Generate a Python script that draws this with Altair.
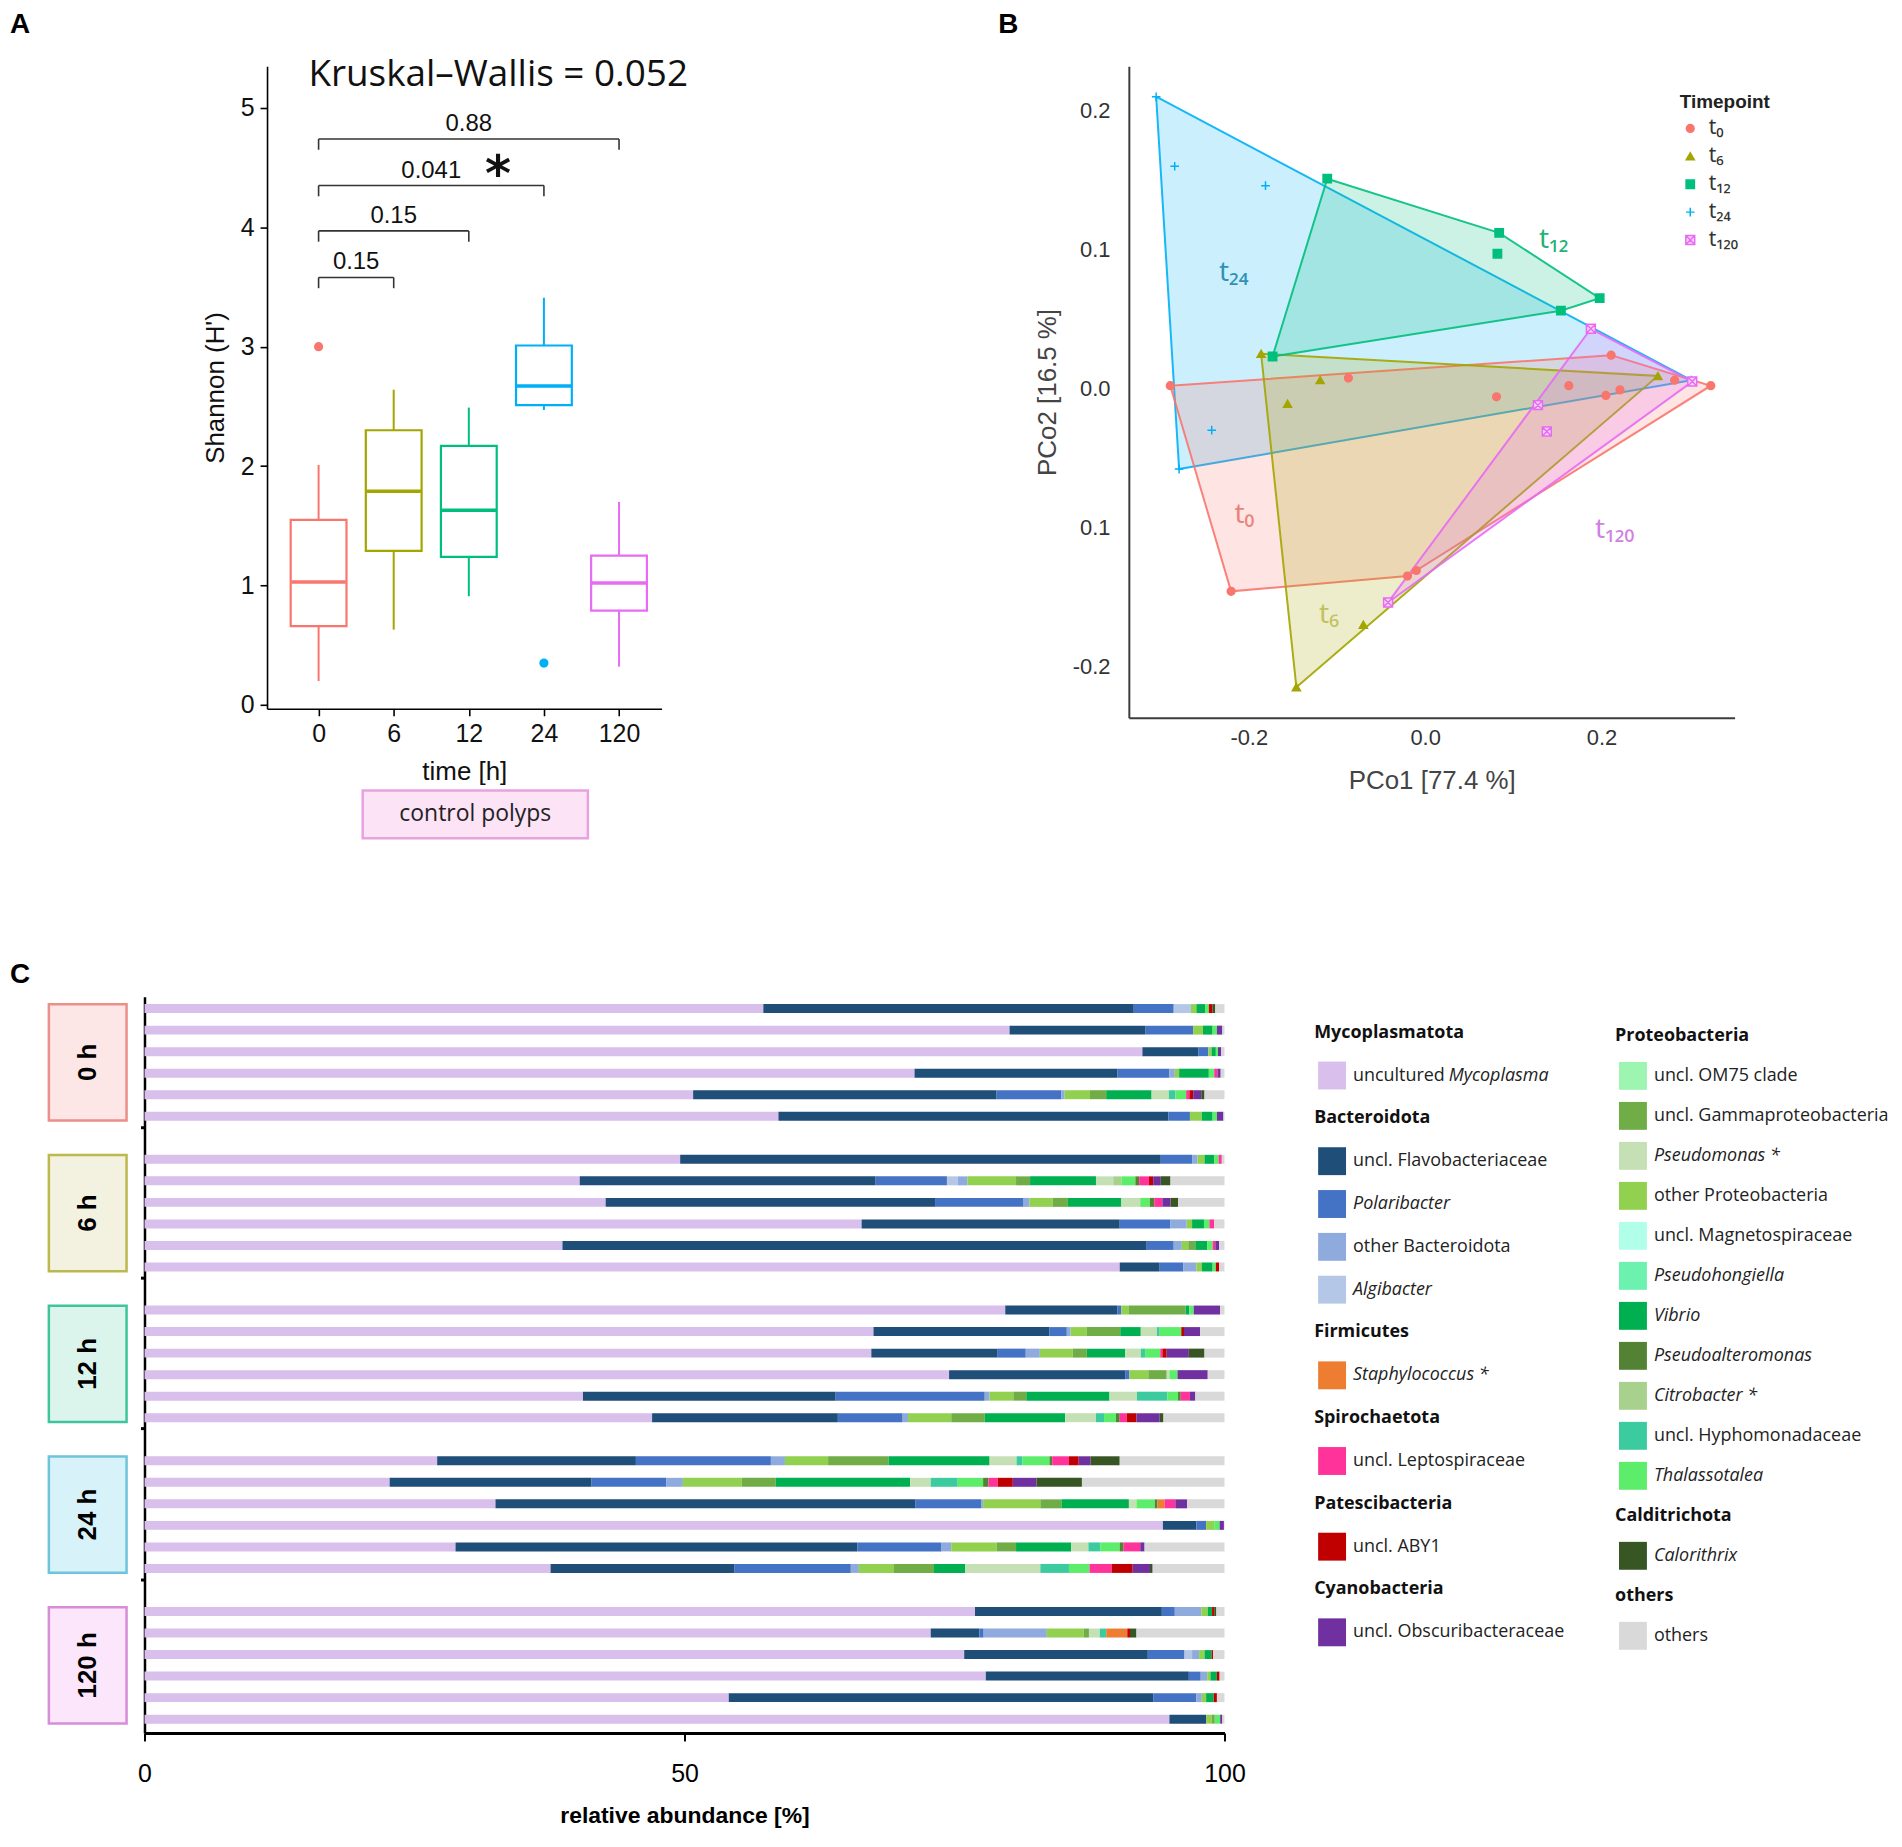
import json
import altair as alt
import pandas as pd

# =========================== Panel A data ===========================
times = ["0", "6", "12", "24", "120"]
shannon_low = [0.20, 0.63, 0.91, 2.47, 0.32]
shannon_q1 = [0.66, 1.29, 1.24, 2.51, 0.79]
shannon_median = [1.03, 1.79, 1.63, 2.67, 1.02]
shannon_q3 = [1.55, 2.30, 2.17, 3.01, 1.25]
shannon_high = [2.01, 2.64, 2.49, 3.41, 1.70]
outlier_time = ["0", "24"]
outlier_value = [3.00, 0.35]
time_colors = ["#F8766D", "#A3A500", "#00BF7D", "#00B0F6", "#E76BF3"]
bracket_to = ["6", "12", "24", "120"]
bracket_level = [3.58, 3.97, 4.35, 4.74]
bracket_p = ["0.15", "0.15", "0.041", "0.88"]
star_time = "24"
kw_title = "Kruskal\u2013Wallis = 0.052"
caption_a = "control polyps"

# =========================== Panel B data ===========================
tp_labels = ["t\u2080", "t\u2086", "t\u2081\u2082", "t\u2082\u2084", "t\u2081\u2082\u2080"]
tp_colors = ["#F8766D", "#A3A500", "#00BF7D", "#00B0F6", "#E76BF3"]
tp_fills = ["#F8766D", "#A3A500", "#00BF7D", "transparent", "#F7D6FA"]
tp_shapes = ["circle", "triangle-up", "square", "M-1,0L1,0M0,-1L0,1",
             "M-1,-1L1,-1L1,1L-1,1ZM-1,-1L1,1M1,-1L-1,1"]
tp_sizes = [60, 80, 60, 190, 100]
pco1_t0 = [-0.289, -0.087, 0.081, 0.163, 0.211, 0.205, 0.221, 0.283, 0.324, -0.010, -0.020, -0.220]
pco2_t0 = [0.002, 0.0075, -0.006, 0.002, 0.024, -0.005, -0.001, 0.006, 0.002, -0.131, -0.135, -0.146]
pco1_t6 = [-0.186, -0.119, -0.156, 0.264, -0.070, -0.146]
pco2_t6 = [0.025, 0.006, -0.011, 0.009, -0.170, -0.215]
pco1_t12 = [-0.111, 0.084, 0.082, 0.198, 0.154, -0.173]
pco2_t12 = [0.151, 0.112, 0.097, 0.065, 0.056, 0.023]
pco1_t24 = [-0.305, -0.284, -0.181, -0.242, -0.279, 0.302]
pco2_t24 = [0.210, 0.160, 0.146, -0.030, -0.058, 0.006]
pco1_t120 = [0.188, 0.128, 0.138, 0.303, -0.042]
pco2_t120 = [0.043, -0.012, -0.031, 0.005, -0.154]
hull_label_x = [-0.205, -0.109, 0.146, -0.217, 0.215]
hull_label_y = [-0.091, -0.163, 0.107, 0.083, -0.102]
hull_label_colors = ["#E8837C", "#C2C25C", "#27B07A", "#2E93B5", "#D07FE3"]

# =========================== Panel C data ===========================
group_labels = ["0 h", "6 h", "12 h", "24 h", "120 h"]
group_fill = ["#FDE6E6", "#F3F1DF", "#DBF5EC", "#D8F2FA", "#FCE6FB"]
group_stroke = ["#EC8F89", "#BCB84E", "#40C49B", "#6EC4D9", "#D68ED7"]
replicates = 6

uncultured_mycoplasma = [57.3, 80.1, 92.4, 71.3, 50.8, 58.7, 49.6, 40.3, 42.7, 66.4, 38.7, 90.3,
                         79.7, 67.5, 67.3, 74.5, 40.6, 47.0, 27.1, 22.7, 32.5, 94.3, 28.8, 37.6,
                         76.9, 72.8, 75.9, 77.9, 54.1, 94.9]
uncl_flavobacteriaceae = [34.3, 12.6, 5.2, 18.8, 28.1, 36.1, 44.5, 27.4, 30.5, 23.9, 54.1, 3.7,
                          10.4, 16.3, 11.7, 16.3, 23.4, 17.2, 18.4, 18.7, 38.9, 3.1, 37.2, 17.0,
                          17.3, 4.5, 17.0, 18.8, 39.3, 3.4]
polaribacter = [3.7, 4.4, 0.9, 4.8, 6.0, 2.0, 2.9, 6.6, 8.2, 4.7, 2.5, 2.2,
                0.35, 1.6, 2.6, 0.4, 13.8, 6.0, 12.5, 6.9, 6.1, 0.9, 7.8, 10.8,
                1.2, 0.4, 3.4, 1.1, 4.0, 0.0]
algibacter = [1.6, 0, 0, 0, 0, 0, 0, 1.0, 0, 0, 0, 0,
              0, 0, 0, 0, 0, 0, 0, 0, 0, 0, 0, 0,
              0, 0, 0.7, 0, 0, 0]
other_bacteroidota = [0, 0, 0, 0.5, 0.3, 0, 0.5, 0.9, 0.55, 1.5, 0.75, 1.2,
                      0, 0.35, 1.3, 0, 0.45, 0.5, 1.3, 1.55, 0.15, 0, 0.9, 0.75,
                      2.45, 5.85, 0.65, 0.6, 0.5, 0]
other_proteobacteria = [0.5, 0.9, 0.3, 0.4, 2.35, 1.1, 0.65, 4.5, 2.15, 0.5, 0.6, 0.5,
                        0.7, 1.5, 3.05, 1.75, 2.2, 4.0, 4.0, 5.45, 5.3, 0.75, 4.2, 3.25,
                        0.6, 3.4, 0.5, 0.3, 0.4, 0.5]
uncl_gammaproteobacteria = [0, 0, 0, 0, 1.5, 0, 0, 1.3, 1.4, 0, 0.65, 0,
                            5.25, 3.1, 1.3, 1.7, 1.2, 3.1, 5.6, 3.15, 1.95, 0, 1.8, 3.7,
                            0, 0.5, 0, 0, 0, 0.3]
vibrio = [0.8, 0.9, 0.4, 2.75, 4.2, 1.0, 0.9, 6.1, 4.95, 1.1, 1.1, 1.0,
          0.35, 1.9, 3.55, 0, 7.7, 7.45, 9.35, 12.45, 6.25, 0, 5.1, 2.9,
          0.4, 0, 0.65, 0.6, 0.7, 0]
pseudomonas = [0, 0, 0, 0, 1.6, 0, 0, 1.6, 1.75, 0, 0, 0,
               0, 1.5, 1.45, 0.25, 2.55, 2.85, 2.5, 1.9, 0.7, 0, 1.6, 6.95,
               0, 1.0, 0, 0, 0, 0]
citrobacter = [0, 0, 0, 0, 0, 0, 0, 0.75, 0, 0, 0, 0,
               0, 0, 0, 0, 0, 0, 0, 0, 0, 0, 0, 0,
               0, 0, 0, 0, 0, 0]
uncl_om75 = [0.0] * 30
uncl_magnetospiraceae = [0.0] * 30
pseudohongiella = [0.0] * 30
uncl_hyphomonadaceae = [0, 0, 0, 0, 0.6, 0, 0, 0, 0, 0, 0, 0,
                        0, 0.25, 0.4, 0, 2.8, 0.75, 0.55, 2.5, 0, 0, 1.1, 2.65,
                        0, 0.6, 0, 0, 0, 0]
thalassotalea = [0.35, 0.4, 0.2, 0.5, 1.0, 0.4, 0.4, 1.3, 0.9, 0.5, 0.5, 0.3,
                 0.4, 2.0, 1.4, 0.75, 1.0, 1.1, 2.5, 2.35, 1.7, 0.5, 1.8, 1.9,
                 0, 0, 0, 0, 0, 0.5]
pseudoalteromonas = [0, 0, 0, 0, 0, 0, 0, 0.35, 0.4, 0, 0, 0,
                     0, 0, 0, 0, 0.25, 0.35, 0.25, 0.5, 0.25, 0, 0.35, 0,
                     0, 0, 0, 0, 0, 0]
staphylococcus = [0, 0, 0, 0, 0, 0, 0, 0, 0, 0, 0, 0,
                  0, 0, 0, 0, 0, 0, 0, 0, 0.65, 0, 0, 0,
                  0, 1.95, 0, 0, 0, 0]
uncl_leptospiraceae = [0, 0, 0, 0.3, 0.3, 0, 0.3, 0.9, 0.75, 0.45, 0.25, 0,
                       0, 0, 0.2, 0, 0.85, 0.65, 1.55, 0.85, 1.0, 0, 1.55, 2.05,
                       0, 0, 0, 0, 0, 0]
uncl_aby1 = [0.35, 0, 0, 0, 0.35, 0, 0, 0.4, 0, 0, 0, 0.3,
             0, 0.25, 0.4, 0, 0, 0.9, 0.9, 1.4, 0, 0, 0, 1.95,
             0.2, 0.25, 0.15, 0.25, 0.3, 0]
uncl_obscuribacteraceae = [0, 0.5, 0.3, 0.3, 0.75, 0.6, 0, 0.7, 0.75, 0, 0.35, 0,
                           2.45, 1.5, 2.05, 2.8, 0.5, 2.15, 1.1, 2.2, 1.1, 0.4, 0.4, 1.6,
                           0, 0, 0, 0, 0, 0.2]
calorithrix = [0.25, 0, 0, 0, 0.3, 0, 0, 0.9, 0.7, 0, 0, 0,
               0, 0, 1.45, 0, 0, 0.35, 2.7, 4.2, 0, 0, 0, 0.25,
               0.2, 0.6, 0, 0, 0, 0]
others = [0.85, 0.2, 0.3, 0.35, 1.85, 0.1, 0.25, 5.0, 4.3, 0.95, 0.5, 0.5,
          0.4, 2.25, 1.85, 1.55, 2.7, 5.65, 9.7, 13.2, 3.45, 0.05, 7.4, 6.65,
          0.75, 8.15, 1.05, 0.45, 0.7, 0.2]

taxa_keys = ["M", "F", "P", "AL", "OB", "OP", "G", "V", "PS", "CI", "OM", "MG", "PH",
             "HY", "TH", "PA", "ST", "LE", "AB", "OC", "CA", "OT"]
taxa_values = [uncultured_mycoplasma, uncl_flavobacteriaceae, polaribacter, algibacter,
               other_bacteroidota, other_proteobacteria, uncl_gammaproteobacteria, vibrio,
               pseudomonas, citrobacter, uncl_om75, uncl_magnetospiraceae, pseudohongiella,
               uncl_hyphomonadaceae, thalassotalea, pseudoalteromonas, staphylococcus,
               uncl_leptospiraceae, uncl_aby1, uncl_obscuribacteraceae, calorithrix, others]
taxa_colors = ["#D9BFEB", "#1F4E79", "#4472C4", "#B4C7E7", "#8FAADC", "#92D050", "#70AD47",
               "#00B050", "#C5E0B4", "#A9D18E", "#9EF5B2", "#B2FFE9", "#6CF2AE", "#3CCB9F",
               "#5CED6A", "#548235", "#ED7D31", "#FF3399", "#C00000", "#7030A0", "#375623",
               "#D9D9D9"]
taxa_plain = {"M": "uncultured", "F": "uncl. Flavobacteriaceae", "OB": "other Bacteroidota",
              "LE": "uncl. Leptospiraceae", "AB": "uncl. ABY1", "OC": "uncl. Obscuribacteraceae",
              "OM": "uncl. OM75 clade", "G": "uncl. Gammaproteobacteria",
              "OP": "other Proteobacteria", "MG": "uncl. Magnetospiraceae",
              "HY": "uncl. Hyphomonadaceae", "OT": "others"}
taxa_italic = {"M": "Mycoplasma", "P": "Polaribacter", "AL": "Algibacter",
               "ST": "Staphylococcus *", "PS": "Pseudomonas *", "PH": "Pseudohongiella",
               "V": "Vibrio", "PA": "Pseudoalteromonas", "CI": "Citrobacter *",
               "TH": "Thalassotalea", "CA": "Calorithrix"}
legend_col1 = ["Mycoplasmatota", "M", "Bacteroidota", "F", "P", "OB", "AL", "Firmicutes", "ST",
               "Spirochaetota", "LE", "Patescibacteria", "AB", "Cyanobacteria", "OC"]
legend_col2 = ["Proteobacteria", "OM", "G", "PS", "OP", "MG", "PH", "V", "PA", "CI", "HY", "TH",
               "Calditrichota", "CA", "others", "OT"]

SANS = "Liberation Sans"
OPEN = "Open Sans"
MINUS = "\u2212"

# =========================== Panel A ===========================
box_df = pd.DataFrame({"idx": list(range(len(times))), "low": shannon_low, "q1": shannon_q1,
                       "med": shannon_median, "q3": shannon_q3, "high": shannon_high,
                       "col": time_colors})
out_df = pd.DataFrame({"idx": [times.index(t) for t in outlier_time], "val": outlier_value,
                       "col": [time_colors[times.index(t)] for t in outlier_time]})
br_df = pd.DataFrame({"x0": [0] * len(bracket_to), "x1": [times.index(t) for t in bracket_to],
                      "y": bracket_level, "p": bracket_p})
star_df = pd.DataFrame({"idx": [times.index(star_time)],
                        "y": [bracket_level[bracket_to.index(star_time)]]})

xa_scale = alt.Scale(domain=[-0.62, 4.5], nice=False, zero=False)
xa_axis = alt.Axis(values=list(range(len(times))), labelExpr=json.dumps(times) + "[datum.value]",
                   title="time [h]", grid=False, labelFlush=False, domainColor="black",
                   domainWidth=1.6, tickColor="black", tickWidth=1.6, tickSize=7, labelPadding=6,
                   labelFontSize=25, labelFont=SANS, labelColor="#111", titleFontSize=26,
                   titleFont=SANS, titleFontWeight="normal", titleColor="#111", titlePadding=12)
ya_scale = alt.Scale(domain=[-0.033, 5.35], nice=False, zero=False)
ya_axis = alt.Axis(values=[0, 1, 2, 3, 4, 5], format="d", title="Shannon (H')", grid=False,
                   domainColor="black", domainWidth=1.6, tickColor="black", tickWidth=1.6,
                   tickSize=7, labelPadding=6, labelFontSize=25, labelFont=SANS,
                   labelColor="#111", titleFontSize=26, titleFont=SANS,
                   titleFontWeight="normal", titleColor="#111", titlePadding=12)


def XA(f):
    return alt.X(f, type="quantitative", scale=xa_scale, axis=xa_axis)


def YA(f):
    return alt.Y(f, type="quantitative", scale=ya_scale, axis=ya_axis)


a_whisk = alt.Chart(box_df).mark_rule(strokeWidth=2).encode(
    x=XA("idx"), y=YA("low"), y2="high:Q", color=alt.Color("col:N", scale=None))
a_box = alt.Chart(box_df).mark_bar(size=56, fill="white", strokeWidth=2.2).encode(
    x=XA("idx"), y=YA("q1"), y2="q3:Q", stroke=alt.Stroke("col:N", scale=None))
a_med = alt.Chart(box_df).transform_calculate(
    xl="datum.idx - 0.362", xr="datum.idx + 0.362").mark_rule(strokeWidth=3.5).encode(
    x=XA("xl"), x2="xr:Q", y=YA("med"), color=alt.Color("col:N", scale=None))
a_out = alt.Chart(out_df).mark_circle(size=85, opacity=1).encode(
    x=XA("idx"), y=YA("val"), color=alt.Color("col:N", scale=None))
br_base = alt.Chart(br_df).transform_calculate(
    ytick="datum.y - 0.09", xm="(datum.x0 + datum.x1) / 2")
a_br_h = br_base.mark_rule(strokeWidth=1.6, color="#333").encode(x=XA("x0"), x2="x1:Q", y=YA("y"))
a_br_l = br_base.mark_rule(strokeWidth=1.6, color="#333").encode(x=XA("x0"), y=YA("y"), y2="ytick:Q")
a_br_r = br_base.mark_rule(strokeWidth=1.6, color="#333").encode(x=XA("x1"), y=YA("y"), y2="ytick:Q")
a_br_t = br_base.mark_text(fontSize=24, font=SANS, dy=-8, baseline="alphabetic",
                           color="#111").encode(x=XA("xm"), y=YA("y"), text="p:N")
a_star = alt.Chart(star_df).mark_text(text="*", font="DejaVu Sans", fontWeight="bold",
                                      fontSize=50, dx=-46, dy=5, baseline="alphabetic",
                                      color="#111").encode(x=XA("idx"), y=YA("y"))
a_title = alt.Chart(pd.DataFrame({"t": [kw_title]})).mark_text(
    font=OPEN, fontSize=37, baseline="alphabetic", align="center", color="#111").encode(
    x=alt.value(232), y=alt.value(20), text="t:N")
a_letter = alt.Chart(pd.DataFrame({"t": ["A"]})).mark_text(
    font=SANS, fontSize=28, fontWeight="bold", align="left", baseline="alphabetic",
    color="black").encode(x=alt.value(-258), y=alt.value(-33), text="t:N")
a_cap_box = alt.Chart(pd.DataFrame({"t": [caption_a]})).mark_rect(
    fill="#FCE3F6", stroke="#E8A2E0", strokeWidth=2.5).encode(
    x=alt.value(96), x2=alt.value(322), y=alt.value(727), y2=alt.value(775))
a_cap_txt = alt.Chart(pd.DataFrame({"t": [caption_a]})).mark_text(
    font=OPEN, fontSize=23, align="center", baseline="middle", color="#222").encode(
    x=alt.value(209), y=alt.value(751), text="t:N")

panel_a = alt.layer(a_whisk, a_box, a_med, a_out, a_br_h, a_br_l, a_br_r, a_br_t, a_star,
                    a_title, a_letter, a_cap_box, a_cap_txt).properties(width=396, height=645)

# =========================== Panel B ===========================


def hull(xs, ys):
    pts = sorted(set(zip(xs, ys)))

    def cross(o, a, b):
        return (a[0] - o[0]) * (b[1] - o[1]) - (a[1] - o[1]) * (b[0] - o[0])
    lower, upper = [], []
    for p in pts:
        while len(lower) >= 2 and cross(lower[-2], lower[-1], p) <= 0:
            lower.pop()
        lower.append(p)
    for p in reversed(pts):
        while len(upper) >= 2 and cross(upper[-2], upper[-1], p) <= 0:
            upper.pop()
        upper.append(p)
    h = lower[:-1] + upper[:-1]
    return h + [h[0]]


xb_scale = alt.Scale(domain=[-0.336, 0.351], nice=False, zero=False)
yb_scale = alt.Scale(domain=[-0.237, 0.232], nice=False, zero=False)
xb_axis = alt.Axis(values=[-0.2, 0.0, 0.2],
                   labelExpr="replace(format(datum.value, '.1f'), '" + MINUS + "', '-')",
                   title="PCo1 [77.4 %]", grid=False, ticks=False, tickSize=0,
                   domainColor="#3c3c3c", domainWidth=2, labelFontSize=22, labelFont=SANS,
                   labelColor="#333", labelPadding=10, labelFlush=False, titleFontSize=26,
                   titleFont=SANS, titleFontWeight="normal", titleColor="#444", titlePadding=19)
yb_axis = alt.Axis(values=[-0.2, -0.1, 0.0, 0.1, 0.2],
                   labelExpr="abs(datum.value + 0.1) < 0.001 ? '0.1' : replace(format(datum.value, '.1f'), '" + MINUS + "', '-')",
                   title="PCo2 [16.5 %]", grid=False, ticks=False, tickSize=0,
                   domainColor="#3c3c3c", domainWidth=2, labelFontSize=22, labelFont=SANS,
                   labelColor="#333", labelPadding=19, labelFlush=False, titleFontSize=26,
                   titleFont=SANS, titleFontWeight="normal", titleColor="#444", titlePadding=12)


def XB(f):
    return alt.X(f, type="quantitative", scale=xb_scale, axis=xb_axis)


def YB(f):
    return alt.Y(f, type="quantitative", scale=yb_scale, axis=yb_axis)


pco_x = [pco1_t0, pco1_t6, pco1_t12, pco1_t24, pco1_t120]
pco_y = [pco2_t0, pco2_t6, pco2_t12, pco2_t24, pco2_t120]
hull_order = [3, 0, 1, 4, 2]
b_layers = []
for k in hull_order:
    h = hull(pco_x[k], pco_y[k])
    hdf = pd.DataFrame({"x": [p[0] for p in h], "y": [p[1] for p in h], "o": list(range(len(h)))})
    b_layers.append(alt.Chart(hdf).mark_line(
        fill=tp_colors[k], fillOpacity=0.2, stroke=tp_colors[k], strokeWidth=2,
        strokeOpacity=0.9).encode(x=XB("x"), y=YB("y"), order="o:Q"))

pts_rows = []
for k in range(len(tp_labels)):
    for xv, yv in zip(pco_x[k], pco_y[k]):
        pts_rows.append({"tp": tp_labels[k], "x": xv, "y": yv})
pts_df = pd.DataFrame(pts_rows)
legend_b = alt.Legend(title="Timepoint", orient="none", legendX=553, legendY=27,
                      titleFontSize=19, titleFont=SANS, titleFontWeight="bold",
                      titleColor="#222", labelFontSize=21, labelFont="Noto Sans",
                      labelColor="#333", symbolStrokeWidth=1.5, rowPadding=6, titlePadding=6,
                      labelOffset=8, padding=0)
b_points = alt.Chart(pts_df).mark_point(filled=False, strokeWidth=1.5, opacity=1).encode(
    x=XB("x"), y=YB("y"),
    color=alt.Color("tp:N", scale=alt.Scale(domain=tp_labels, range=tp_colors), legend=legend_b),
    fill=alt.Fill("tp:N", scale=alt.Scale(domain=tp_labels, range=tp_fills), legend=legend_b),
    shape=alt.Shape("tp:N", scale=alt.Scale(domain=tp_labels, range=tp_shapes), legend=legend_b),
    size=alt.Size("tp:N", scale=alt.Scale(domain=tp_labels, range=tp_sizes), legend=legend_b))
b_layers.append(b_points)
for k in range(len(tp_labels)):
    ldf = pd.DataFrame({"t": [tp_labels[k]], "x": [hull_label_x[k]], "y": [hull_label_y[k]]})
    b_layers.append(alt.Chart(ldf).mark_text(fontSize=28, font="Noto Sans",
                                             color=hull_label_colors[k]).encode(
        x=XB("x"), y=YB("y"), text="t:N"))
b_layers.append(alt.Chart(pd.DataFrame({"t": ["B"]})).mark_text(
    font=SANS, fontSize=28, fontWeight="bold", align="left", baseline="alphabetic",
    color="black").encode(x=alt.value(-131), y=alt.value(-33), text="t:N"))
panel_b = alt.layer(*b_layers).properties(width=608, height=654)

# =========================== Panel C ===========================
n_bars = len(group_labels) * replicates
bar_rows = []
for b in range(n_bars):
    g, i = divmod(b, replicates)
    pos = g * (replicates + 1) + i
    cum = 0.0
    for key, vals, col in zip(taxa_keys, taxa_values, taxa_colors):
        v = vals[b]
        if v > 0:
            bar_rows.append({"pos": pos, "x0": cum, "x1": cum + v, "col": col, "taxon": key})
            cum += v
bars_df = pd.DataFrame(bar_rows)

grp_df = pd.DataFrame({"label": group_labels, "fill": group_fill, "stroke": group_stroke,
                       "g": list(range(len(group_labels)))})
grp_df["center"] = grp_df["g"] * (replicates + 1) + (replicates - 1) / 2

xc_scale = alt.Scale(domain=[0, 100], nice=False, zero=False)
yc_scale = alt.Scale(domain=[-0.32, 33.41], reverse=True, nice=False, zero=False)
xc_axis = alt.Axis(values=[0, 50, 100], title="relative abundance [%]", grid=False,
                   labelFlush=False, domainColor="black", domainWidth=3, tickColor="black",
                   tickWidth=2, tickSize=8, labelFontSize=25, labelFont=SANS,
                   labelColor="black", labelPadding=21, titleFontSize=23, titleFont=SANS,
                   titleFontWeight="bold", titleColor="black", titlePadding=18)
yc_axis = alt.Axis(values=[5.5, 12.5, 19.5, 26.5], labels=False, grid=False,
                   domainColor="black", domainWidth=2.5, tickColor="black", tickWidth=3,
                   tickSize=4)


def YC(f):
    return alt.Y(f, type="quantitative", scale=yc_scale, axis=yc_axis, title=None)


c_bars = alt.Chart(bars_df).mark_bar(orient="horizontal", size=9, strokeWidth=0).encode(
    x=alt.X("x0:Q", scale=xc_scale, axis=xc_axis), x2="x1:Q", y=YC("pos"),
    color=alt.Color("col:N", scale=None))
grp_base = alt.Chart(grp_df).transform_calculate(
    ylo="datum.center - 2.7", yhi="datum.center + 2.7")
c_grp_box = grp_base.mark_rect(strokeWidth=2.5).encode(
    x=alt.value(-96), x2=alt.value(-18), y=YC("ylo"), y2="yhi:Q",
    fill=alt.Fill("fill:N", scale=None), stroke=alt.Stroke("stroke:N", scale=None))
c_grp_txt = grp_base.mark_text(angle=270, fontSize=26, fontWeight="bold", font=SANS,
                               align="center", baseline="middle", color="black").encode(
    x=alt.value(-57), y=YC("center"), text="label:N")
c_letter = alt.Chart(pd.DataFrame({"t": ["C"]})).mark_text(
    font=SANS, fontSize=28, fontWeight="bold", align="left", baseline="alphabetic",
    color="black").encode(x=alt.value(-135), y=alt.value(-14), text="t:N")
panel_c = alt.layer(c_bars, c_grp_box, c_grp_txt, c_letter).properties(width=1084, height=739)

color_of = dict(zip(taxa_keys, taxa_colors))


def legend_column(entries, d0, d1, width):
    heads, plain, ital, mixed, sw = [], [], [], [], []
    for r, e in enumerate(entries):
        if e not in color_of:
            heads.append({"row": r, "t": e})
            continue
        sw.append({"row": r, "c": color_of[e]})
        p = taxa_plain.get(e, "")
        it = taxa_italic.get(e, "")
        if p and it:
            mixed.append({"row": r, "p": p, "i": it})
        elif p:
            plain.append({"row": r, "t": p})
        else:
            ital.append({"row": r, "t": it})
    ys = alt.Scale(domain=[d0, d1], reverse=True, nice=False, zero=False)

    def Y():
        return alt.Y("row:Q", scale=ys, axis=None)
    layers = [
        alt.Chart(pd.DataFrame(heads)).mark_text(
            font=OPEN, fontSize=18, fontWeight="bold", align="left", baseline="middle",
            color="#111").encode(x=alt.value(0), y=Y(), text="t:N"),
        alt.Chart(pd.DataFrame(sw)).mark_square(size=784, opacity=1).encode(
            x=alt.value(18), y=Y(), color=alt.Color("c:N", scale=None)),
    ]
    if plain:
        layers.append(alt.Chart(pd.DataFrame(plain)).mark_text(
            font=OPEN, fontSize=18, align="left", baseline="middle", color="#222").encode(
            x=alt.value(39), y=Y(), text="t:N"))
    if ital:
        layers.append(alt.Chart(pd.DataFrame(ital)).mark_text(
            font=OPEN, fontSize=18, fontStyle="italic", align="left", baseline="middle",
            color="#222").encode(x=alt.value(39), y=Y(), text="t:N"))
    if mixed:
        mdf = pd.DataFrame(mixed)
        layers.append(alt.Chart(mdf).mark_text(
            font=OPEN, fontSize=18, align="left", baseline="middle", color="#222").encode(
            x=alt.value(39), y=Y(), text="p:N"))
        layers.append(alt.Chart(mdf).mark_text(
            font=OPEN, fontSize=18, fontStyle="italic", align="left", baseline="middle",
            dx=96, color="#222").encode(x=alt.value(39), y=Y(), text="i:N"))
    return alt.layer(*layers).properties(width=width, height=739)


leg1 = legend_column(legend_col1, -0.84, 16.35, 212)
leg2 = legend_column(legend_col2, -0.98, 17.43, 280)


def spacer(w):
    return alt.Chart(pd.DataFrame({"v": [0]})).mark_point(opacity=0, size=1).encode(
        x=alt.X("v:Q", axis=None), y=alt.Y("v:Q", axis=None)).properties(width=w, height=10)


indep = dict(color="independent", fill="independent", stroke="independent",
             shape="independent", size="independent")
top_row = alt.hconcat(spacer(123), panel_a, spacer(469), panel_b, spacing=0,
                      bounds="flush").resolve_scale(**indep).resolve_legend(
    color="independent", fill="independent", shape="independent", size="independent")
bottom_row = alt.hconcat(panel_c, leg1, leg2, spacing=90, bounds="flush").resolve_scale(**indep)
chart = alt.vconcat(top_row, bottom_row, spacing=121).resolve_scale(**indep).resolve_legend(
    color="independent", fill="independent", shape="independent", size="independent"
).properties(
    padding={"left": 2, "top": 0, "right": 0, "bottom": 0}
).configure(font=SANS).configure_view(stroke="transparent", strokeWidth=0)

chart.save("out.html", embed_options={"renderer": "svg", "actions": False})
